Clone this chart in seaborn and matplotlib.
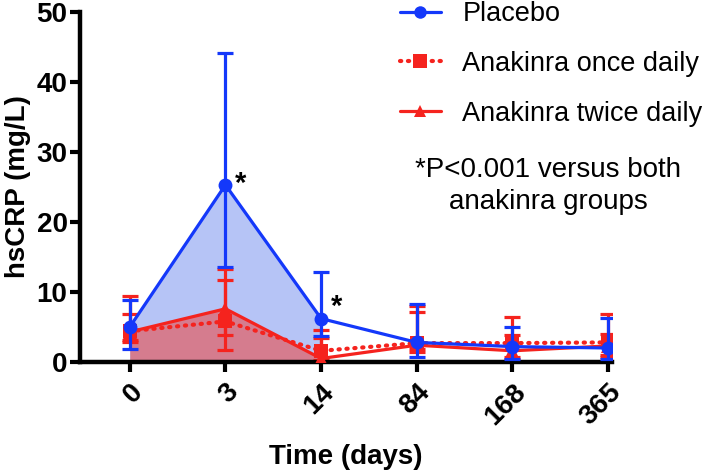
import matplotlib
matplotlib.use("Agg")
import matplotlib.pyplot as plt
import seaborn as sns
import numpy as np
import pandas as pd
from matplotlib.lines import Line2D

sns.set_theme(style="ticks")
plt.rcParams['font.family'] = ['Liberation Sans', 'DejaVu Sans']
plt.rcParams.update({"text.color": "black", "axes.labelcolor": "black",
                     "xtick.color": "black", "ytick.color": "black"})

days = ["0", "3", "14", "84", "168", "365"]

placebo = [5.0, 25.3, 6.2, 2.8, 2.2, 2.0]
placebo_lo = [1.9, 13.6, 3.7, 0.7, 0.5, 0.5]
placebo_hi = [8.8, 44.1, 12.9, 8.3, 5.0, 6.3]

once = [4.4, 5.8, 1.6, 2.7, 2.7, 2.8]
once_lo = [3.1, 3.8, 0.3, 1.4, 0.3, 0.7]
once_hi = [9.4, 11.7, 4.6, 7.1, 6.4, 6.9]

twice = [4.3, 7.6, 0.5, 2.4, 1.6, 2.3]
twice_lo = [2.8, 1.7, 0.1, 1.9, 0.7, 1.0]
twice_hi = [6.9, 13.3, 3.5, 8.0, 3.8, 4.0]

BLUE = "#1438fa"
RED = "#f5231e"

pos = np.arange(len(days))
df = pd.DataFrame({"pos": np.tile(pos, 3),
                   "val": placebo + once + twice,
                   "grp": ["Placebo"] * 6 + ["Anakinra once daily"] * 6 + ["Anakinra twice daily"] * 6})

fig = plt.figure(figsize=(7.09, 4.73), dpi=100)
ax = fig.add_axes([80 / 709, 1 - 362 / 473, (612 - 80) / 709, (362 - 12) / 473])

# shaded areas between day 0 and day 14
ax.fill_between(pos[:3], 0, placebo[:3], color="#b6c4f6", lw=0, zorder=1)
ax.fill_between(pos[:3], 0, twice[:3], color="#d57c8e", lw=0, zorder=1.5)

lw = 2.3
cap = 6

def errs(v, lo, hi):
    v = np.array(v); return np.vstack([v - np.array(lo), np.array(hi) - v])

ax.errorbar(pos, once, yerr=errs(once, once_lo, once_hi), fmt="none", ecolor=RED,
            elinewidth=lw, capsize=cap, capthick=lw, zorder=2)
ax.errorbar(pos, twice, yerr=errs(twice, twice_lo, twice_hi), fmt="none", ecolor=RED,
            elinewidth=lw, capsize=cap, capthick=lw, zorder=2)

sub = df[df.grp == "Anakinra once daily"]
sns.lineplot(data=sub, x="pos", y="val", ax=ax, color=RED, lw=3, linestyle=(0, (0.3, 1.6)),
             dash_capstyle="round", marker="s", markersize=10, markeredgewidth=0, zorder=3)
sub = df[df.grp == "Anakinra twice daily"]
sns.lineplot(data=sub, x="pos", y="val", ax=ax, color=RED, lw=lw, marker="^", markersize=10,
             markeredgewidth=0, zorder=3)

ax.errorbar(pos, placebo, yerr=errs(placebo, placebo_lo, placebo_hi), fmt="none", ecolor=BLUE,
            elinewidth=lw, capsize=cap, capthick=lw, zorder=4)
sub = df[df.grp == "Placebo"]
sns.lineplot(data=sub, x="pos", y="val", ax=ax, color=BLUE, lw=lw, marker="o", markersize=10,
             markeredgewidth=0, zorder=5)

ax.text(pos[1] + 0.1, placebo[1] + 0.1, "*", fontsize=21, fontweight="bold", ha="left", va="center")
ax.text(pos[2] + 0.1, placebo[2] + 1.6, "*", fontsize=21, fontweight="bold", ha="left", va="center")

ax.set_xlim(-0.52, 5.04)
ax.set_ylim(0, 50)
ax.set_yticks([0, 10, 20, 30, 40, 50])
ax.set_xticks(pos)
ax.set_xticklabels(days, rotation=45, ha="right", rotation_mode="anchor")
for lab in ax.get_xticklabels() + ax.get_yticklabels():
    lab.set_fontsize(20)
    lab.set_fontweight("bold")
ax.tick_params(axis="both", width=3, length=7, direction="out", color="black", pad=2)
ax.tick_params(axis="x", pad=5)
for s in ["left", "bottom"]:
    ax.spines[s].set_linewidth(3.2)
    ax.spines[s].set_color("black")
sns.despine(ax=ax)
ax.set_xlabel("Time (days)", fontsize=20, fontweight="bold", labelpad=10)
ax.set_ylabel("hsCRP (mg/L)", fontsize=20, fontweight="bold", labelpad=4)
ax.patch.set_alpha(0)

handles = [
    Line2D([], [], color=BLUE, lw=lw, marker="o", markersize=9, markeredgewidth=0),
    Line2D([], [], color=RED, lw=3, linestyle=(0, (0.3, 1.6)), dash_capstyle="round",
           marker="s", markersize=10, markeredgewidth=0),
    Line2D([], [], color=RED, lw=lw, marker="^", markersize=9, markeredgewidth=0),
]
leg = fig.legend(handles, ["Placebo", "Anakinra once daily", "Anakinra twice daily"],
                 loc="upper left", bbox_to_anchor=(400 / 709, 1 - 1 / 473), frameon=False,
                 fontsize=19.5, handlelength=1.5, labelspacing=0.88, handletextpad=0.8,
                 borderaxespad=0, borderpad=0.0)
for t in leg.get_texts():
    t.set_color("black")

fig.text(548 / 709, 1 - 186 / 473, "*P<0.001 versus both\nanakinra groups", fontsize=20,
         ha="center", va="center", linespacing=1.3, color="black")

fig.savefig("out.png", dpi=100)
